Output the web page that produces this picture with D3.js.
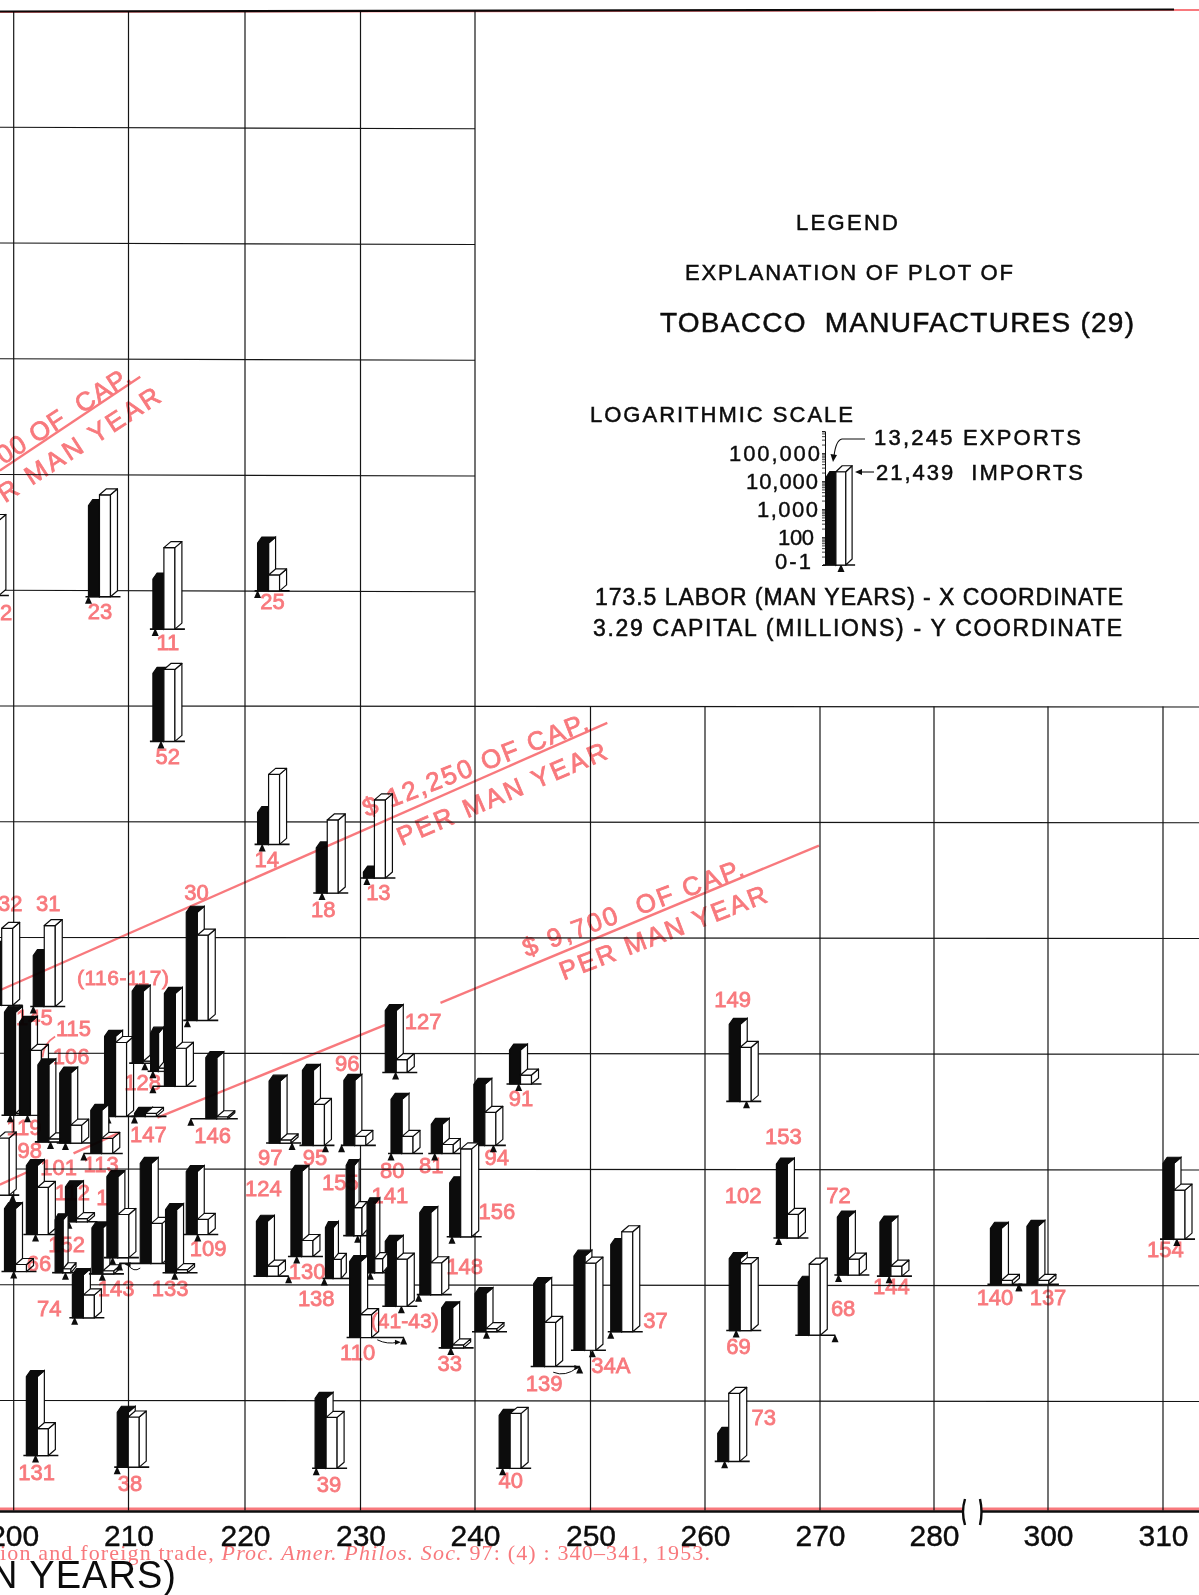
<!DOCTYPE html>
<html>
<head>
<meta charset="utf-8">
<script src="https://cdn.jsdelivr.net/npm/d3@7"></script>
<style>
    html, body { margin: 0; padding: 0; background: #fff; }
    svg { display: block; background: #fff; }
    text { font-family: "Liberation Sans", sans-serif; white-space: pre; }
    #red { mix-blend-mode: multiply; }
</style>
</head>
<body>
<svg id="plot" width="1199" height="1595"></svg>
<script>
// industries, one entry per plotted bar pair
var ids = ["12","23","11","25","52","14","18","13","32","31","30","145","119","","106","115","","113","147","146","116","128","117","97","95","96","127","80","81","94","91","156","148","142","141","155","110","33","","139","34A","37","40","131","38","39","74","66","101","112","152","143","","","133","109","124","130","138","149","153","69","68","72","144","140","137","154","73"];
// labor where the bar pair stands (man years)
var barLabor = [196.8,206.5,212.1,221.2,212.1,221.2,226.3,230.4,198.0,201.7,215.0,199.2,200.5,197.7,202.1,204.0,207.9,206.7,210.5,216.7,210.3,211.9,213.1,222.2,225.1,228.7,232.3,232.8,236.3,240.0,243.1,237.9,235.3,232.3,230.7,228.9,229.2,237.2,240.1,245.2,248.7,251.9,242.2,201.1,209.0,226.2,205.1,199.2,201.1,204.5,203.6,206.8,208.1,211.0,213.2,215.0,221.1,224.1,227.1,262.2,266.3,262.2,268.2,271.6,275.3,289.9,296.3,310.0,261.2];
// labor at the little triangle, the true x coordinate
var markLabor = [197.1,206.5,212.3,221.2,212.8,221.6,226.8,230.7,200.5,201.7,215.1,199.7,201.2,199.9,203.2,204.5,208.2,206.1,210.5,215.4,211.4,212.1,212.1,224.2,227.1,228.5,233.2,232.8,236.6,241.7,243.9,238.1,235.2,233.7,231.0,229.9,233.9,238.0,241.1,249.2,250.3,251.9,242.5,201.9,209.0,226.3,205.3,200.0,201.9,204.8,204.5,207.7,208.6,209.2,214.0,216.0,223.9,224.6,227.0,263.7,266.5,262.8,271.4,271.7,276.1,294.9,294.9,311.2,261.8];
// capital in grid units
var capital = [7.95,7.94,7.66,7.99,6.69,5.80,5.38,5.51,4.41,4.40,4.28,3.46,3.46,2.77,3.23,3.22,3.45,3.13,3.45,3.43,3.91,3.84,3.71,3.22,3.20,3.20,3.83,3.13,3.13,3.20,3.73,2.41,1.91,1.81,2.10,2.42,1.54,1.45,1.59,1.29,1.43,1.59,0.41,0.52,0.42,0.41,1.71,2.11,2.43,2.54,2.10,2.09,2.23,2.18,2.10,2.43,2.07,2.24,2.05,3.58,2.40,1.60,1.56,2.08,2.07,2.00,2.00,2.39,0.47];
// log10 of exports and imports
var exportsLog = [2.79,4.25,2.79,2.71,3.43,2.14,2.61,1.21,3.07,2.82,4.86,4.68,4.32,2.79,3.75,3.50,3.86,2.54,1.11,3.18,3.57,2.36,4.32,3.21,3.68,3.32,3.21,2.93,2.04,3.18,2.21,2.93,3.93,3.32,3.46,3.50,3.71,2.43,2.36,3.96,4.36,4.11,2.89,3.82,2.96,3.50,2.54,3.25,3.46,2.25,2.89,2.64,3.89,4.57,3.25,3.25,2.96,4.04,2.82,3.75,3.64,3.57,2.89,3.07,2.93,3.00,3.07,3.71,2.00];
var importsLog = [3.68,4.64,3.91,1.57,3.57,3.50,3.61,3.79,3.75,3.89,4.04,1.07,3.32,3.04,1.11,1.64,3.64,1.54,1.11,1.07,1.07,1.11,2.36,1.11,2.46,1.32,1.46,1.61,1.32,2.18,1.32,4.14,2.14,2.68,1.50,2.00,1.82,1.11,1.11,2.57,4.11,4.57,2.96,1.96,2.79,2.82,1.82,1.25,2.68,1.11,1.14,1.11,2.54,2.43,1.11,1.54,1.36,1.57,1.68,2.93,1.84,3.39,3.54,1.57,1.36,1.14,1.14,2.75,3.43];
var narrowIds = ["141","155","152","128","138"];

var xTicks = [200,210,220,230,240,250,260,270,280,300,310];
var gridLevels = [1,2,3,4,5,6,7,8,9,10,11,12];
var bottomCapital = 0.045;

// red numbers: text, labor, capital
var labelText = ["12","23","11","25","52","14","18","13","32","31","30","145","115","106","128","147","146","119","98","101","113","112","152","66","1","143","133","74","109","131","38","39","97","95","96","127","80","81","94","91","156","148","141","155","110","33","139","34A","37","40","124","130","138","149","153","102","69","68","72","144","140","137","154","73"];
var labelLabor = [198.8,207.5,213.4,222.5,213.4,222.0,226.9,231.7,199.7,203.0,215.9,201.8,205.2,205.0,211.2,211.7,217.3,200.9,201.4,203.9,207.6,205.1,204.6,202.2,207.7,208.9,213.6,203.1,216.9,202.0,210.1,227.4,222.3,226.2,229.0,235.6,232.9,236.3,242.0,244.1,242.0,239.2,232.7,228.4,229.9,237.9,246.1,251.9,255.8,243.2,221.7,225.5,226.3,262.5,266.9,263.4,263.0,272.1,271.7,276.3,290.7,300.0,310.2,265.2];
var labelCapital = [7.81,7.82,7.55,7.90,6.56,5.67,5.24,5.39,5.29,5.29,5.39,4.31,4.21,3.97,3.75,3.30,3.29,3.36,3.16,3.01,3.04,2.80,2.35,2.18,2.75,1.97,1.97,1.79,2.31,0.38,0.28,0.27,3.10,3.10,3.91,4.27,2.99,3.03,3.10,3.61,2.63,2.16,2.77,2.88,1.41,1.32,1.15,1.30,1.69,0.31,2.83,2.11,1.88,4.46,3.28,2.77,1.47,1.79,2.77,1.98,1.89,1.89,2.30,0.85];
var groupText = ["(116-117)","(41-43)"];
var groupLabor = [209.5,234.0];
var groupCapital = [4.65,1.69];

// capital per man year lines, each run is [labor, capital] pairs
var lineRuns = [
    [[198.8,9.03],[211.0,9.84]],
    [[198.8,4.54],[251.6,6.85]],
    [[198.8,2.86],[201.2,2.97]],
    [[205.2,3.13],[209.2,3.31]],
    [[212.5,3.44],[232.3,4.24]],
    [[237.1,4.43],[270.0,5.79]]
];
var lineText = ["00 OF  CAP.","R MAN YEAR","$ 12,250 OF CAP.","PER MAN YEAR","$ 9,700  OF CAP.","PER MAN YEAR"];
var lineTextLabor = [209.9,212.5,230.4,233.4,244.3,247.5];
var lineTextCapital = [9.87,9.70,6.11,5.86,4.90,4.70];
var lineTextAngle = [-33,-33,-21.5,-23,-20.5,-21];
var lineTextLength = [154,188,240,225,234,220];
var lineTextAnchor = ["end","end","start","start","start","start"];

// little arrows from a bar to its triangle
var arrowRuns = [[231.6,1.52,233.4,1.50],[246.9,1.24,249.0,1.28],[211.0,2.14,209.9,2.17]];

var legendExports = 13245, legendImports = 21439;
var legendTicks = [10,20,30,40,50,60,70,80,90,100,200,300,400,500,600,700,800,900,1000,2000,3000,4000,5000,6000,7000,8000,9000,10000,20000,30000,40000,50000,60000,70000,80000,90000,100000,200000,300000,400000,500000,600000];
var legendScaleText = ["100,000","10,000","1,000","100","0-1"];
var legendScaleValue = [100000,10000,1000,100,10];

var red = "#f8797d", ink = "#0c0c0c";
var svg = d3.select("#plot");

var x = d3.scaleLinear().domain([200,280,300,310]).range([13.7,934,1048,1163]);
var y = d3.scaleLinear().domain([1,13]).range([1400,11]);
// the printed grid sits a touch off the plain linear fit
var xGrid = d3.scaleLinear().domain(xTicks).range([13.7,128.5,245,360.5,475,590.5,705,820,934,1048,1163]);
var barH = d3.scaleLinear().domain([1,5]).range([0,112]);
var yBase = y(bottomCapital);

// ---- grid
var grid = svg.append("g").attr("stroke", "#151515").attr("stroke-width", 1.2);
grid.selectAll(".h").data(gridLevels).enter().append("line")
    .attr("x1", 0)
    .attr("x2", function (d) { return d > 7 ? xGrid(240) : 1199; })
    .attr("y1", function (d) { return y(d) + 0.5; })
    .attr("y2", function (d) { return d > 7 ? y(d) + 2 : y(d) + 1.5; });
grid.selectAll(".v").data(xTicks).enter().append("line")
    .attr("x1", xGrid).attr("x2", xGrid)
    .attr("y1", function (d) { return d > 240 ? y(7) + 1 : y(13); })
    .attr("y2", yBase);

svg.append("line").attr("x1", 0).attr("x2", 1174).attr("y1", y(13) + 0.5).attr("y2", y(13) - 1.5)
    .attr("stroke", ink).attr("stroke-width", 2.2);

// bottom axis, broken between 280 and 300
var axisG = svg.append("g").attr("transform", "translate(0," + yBase + ")")
    .call(d3.axisBottom(xGrid).tickValues(xTicks).tickSize(0).tickPadding(14));
axisG.select(".domain").remove();
axisG.selectAll("text").attr("font-size", 30).attr("font-family", "Liberation Sans").attr("fill", ink)
    .attr("stroke", ink).attr("stroke-width", 0.4);

[[0, 963], [982, 1199]].forEach(function (r) {
    svg.append("line").attr("x1", r[0]).attr("x2", r[1]).attr("y1", yBase + 1).attr("y2", yBase + 1)
        .attr("stroke", ink).attr("stroke-width", 2.4);
});
["M965 1499 Q961 1512 965 1525", "M980 1499 Q983 1512 980 1525"].forEach(function (p) {
    svg.append("path").attr("d", p).attr("fill", "none").attr("stroke", ink).attr("stroke-width", 2.4);
});

svg.append("text").attr("x", -10).attr("y", 1588).attr("font-size", 38).attr("fill", ink)
    .attr("textLength", 186).attr("lengthAdjust", "spacing").text("N YEARS)");

// ---- bars
var frontW = 11, sideW = 7, rise = 6;

function pts(a) { return a.map(function (p) { return p.join(","); }).join(" "); }

function drawPair(g, bx, base, mx, eH, iH, k) {
    var w = frontW * k, d = sideW * k, r = rise;
    var ex = bx + w, ix = bx + w, top = base - eH, itop = base - iH;
    var right = ix + w + d;
    // base rule and triangle
    g.append("line").attr("x1", Math.min(bx - 3, mx)).attr("x2", Math.max(right + 3, mx))
        .attr("y1", base).attr("y2", base).attr("stroke", ink).attr("stroke-width", 1.6);
    g.append("polygon").attr("points", pts([[mx, base - 1], [mx - 3.5, base + 7], [mx + 3.5, base + 7]])).attr("fill", ink);
    // exports: white side, black front and top
    g.append("polygon").attr("points", pts([[ex, base], [ex, top], [ex + d, top - r], [ex + d, base - r]]))
        .attr("fill", "#fff").attr("stroke", ink).attr("stroke-width", 1.2);
    g.append("polygon").attr("points", pts([[bx, base], [bx, top], [bx + d * 0.6, top - r], [ex + d, top - r], [ex, top], [ex, base]]))
        .attr("fill", ink).attr("stroke", ink).attr("stroke-width", 1.2).attr("stroke-linejoin", "round");
    // imports: all white, outlined
    var face = [
        [[ix, base], [ix, itop], [ix + w, itop], [ix + w, base]],
        [[ix + w, base], [ix + w, itop], [right, itop - r], [right, base - r]],
        [[ix, itop], [ix + d, itop - r], [right, itop - r], [ix + w, itop]]
    ];
    face.forEach(function (f) {
        g.append("polygon").attr("points", pts(f)).attr("fill", "#fff")
            .attr("stroke", ink).attr("stroke-width", 1.2).attr("stroke-linejoin", "round");
    });
}

var rows = ids.map(function (id, i) {
    return { id: id, bar: barLabor[i], mark: markLabor[i], cap: capital[i], e: exportsLog[i], im: importsLog[i] };
});

svg.append("g").attr("id", "bars").selectAll("g").data(rows).enter().append("g")
    .each(function (d) {
        var k = narrowIds.indexOf(d.id) >= 0 ? 0.72 : 1;
        drawPair(d3.select(this), x(d.bar), y(d.cap), x(d.mark), barH(d.e), barH(d.im), k);
    });

// arrows bar -> triangle
arrowRuns.forEach(function (a) {
    var x0 = x(a[0]), y0 = y(a[1]), x1 = x(a[2]), y1 = y(a[3]);
    var p = d3.path();
    p.moveTo(x0, y0);
    p.quadraticCurveTo((x0 + x1) / 2, y0 + 5, x1, y1);
    svg.append("path").attr("d", p.toString()).attr("fill", "none").attr("stroke", ink).attr("stroke-width", 1);
    var s = x1 > x0 ? 1 : -1;
    svg.append("polygon").attr("points", pts([[x1 + 3 * s, y1], [x1 - 3 * s, y1 - 2.5], [x1 - 3 * s, y1 + 2.5]])).attr("fill", ink);
});

// ---- legend
var L = svg.append("g").attr("id", "legend").attr("fill", ink);

function lt(s, x0, x1, cy, size) {
    L.append("text").attr("x", x0).attr("y", cy).attr("dy", "0.36em").attr("font-size", size)
        .attr("stroke", ink).attr("stroke-width", 0.5)
        .attr("textLength", x1 - x0).attr("lengthAdjust", "spacing").text(s);
}
lt("LEGEND", 796, 898, 222, 22);
lt("EXPLANATION OF PLOT OF", 685, 1013, 272, 22);
lt("TOBACCO  MANUFACTURES (29)", 660, 1134, 322, 28);
lt("LOGARITHMIC SCALE", 590, 853, 414, 22);
lt("13,245 EXPORTS", 874, 1081, 437, 22);
lt("21,439  IMPORTS", 876, 1083, 472, 22);
lt("173.5 LABOR (MAN YEARS) - X COORDINATE", 595, 1123, 597, 23);
lt("3.29 CAPITAL (MILLIONS) - Y COORDINATE", 593, 1122, 628, 23);

var logY = d3.scaleLog().domain([10, 600000]).range([565, 565 - 28 * (Math.log10(600000) - 1)]);
var logAxis = d3.axisLeft(logY).tickValues(legendTicks).tickSize(3).tickFormat("");
var logG = L.append("g").attr("transform", "translate(825,0)").call(logAxis);
logG.selectAll("line").attr("stroke", ink).attr("stroke-width", 0.8);
logG.select(".domain").attr("stroke", ink);

L.selectAll(".sc").data(legendScaleText).enter().append("text")
    .attr("text-anchor", "end").attr("x", function (d, i) { return [820,818,818,814,811][i]; })
    .attr("y", function (d, i) { return logY(legendScaleValue[i]); })
    .attr("dy", function (d, i) { return i == 4 ? "0.2em" : "0.36em"; })
    .attr("font-size", 22).attr("stroke", ink).attr("stroke-width", 0.4)
    .attr("textLength", function (d, i) { return [91,72,61,36,36][i]; }).attr("lengthAdjust", "spacing")
    .text(function (d) { return d; });

drawPair(L.append("g"), 826, 565, 841, barH(Math.log10(legendExports)), barH(Math.log10(legendImports)), 0.9);

L.append("path").attr("d", "M865 439 L842 439 Q836 440 834 456").attr("fill", "none").attr("stroke", ink).attr("stroke-width", 1.1);
L.append("polygon").attr("points", "833,462 830.5,454 837,455");
L.append("line").attr("x1", 874).attr("x2", 860).attr("y1", 472).attr("y2", 472).attr("stroke", ink).attr("stroke-width", 1.1);
L.append("polygon").attr("points", "855,472 862,469 862,475");

// ---- red overlay, printed over the black
var R = svg.append("g").attr("id", "red").attr("fill", red);

R.append("line").attr("x1", 0).attr("x2", 1199).attr("y1", y(13) + 1).attr("y2", y(13) - 1)
    .attr("stroke", red).attr("stroke-width", 2);
[[0, 963], [982, 1199]].forEach(function (r) {
    R.append("line").attr("x1", r[0]).attr("x2", r[1]).attr("y1", yBase - 1.5).attr("y2", yBase - 1.5)
        .attr("stroke", red).attr("stroke-width", 3);
});

R.selectAll(".run").data(lineRuns).enter().append("path")
    .attr("d", d3.line().x(function (d) { return x(d[0]); }).y(function (d) { return y(d[1]); }))
    .attr("fill", "none").attr("stroke", red).attr("stroke-width", 2.4);

R.selectAll(".lab").data(labelText).enter().append("text")
    .attr("x", function (d, i) { return x(labelLabor[i]); })
    .attr("y", function (d, i) { return y(labelCapital[i]); })
    .attr("dy", "0.36em").attr("text-anchor", "middle").attr("font-size", 22)
    .attr("stroke", red).attr("stroke-width", 0.8)
    .text(function (d) { return d; });

R.selectAll(".grp").data(groupText).enter().append("text")
    .attr("x", function (d, i) { return x(groupLabor[i]); })
    .attr("y", function (d, i) { return y(groupCapital[i]); })
    .attr("dy", "0.36em").attr("text-anchor", "middle").attr("font-size", 21)
    .attr("textLength", function (d, i) { return i == 0 ? 92 : 68; }).attr("lengthAdjust", "spacing")
    .attr("stroke", red).attr("stroke-width", 0.8)
    .text(function (d) { return d; });

R.selectAll(".lt").data(lineText).enter().append("text")
    .attr("transform", function (d, i) {
        return "translate(" + x(lineTextLabor[i]) + "," + y(lineTextCapital[i]) + ") rotate(" + lineTextAngle[i] + ")";
    })
    .attr("dy", "0.36em").attr("font-size", 26)
    .attr("text-anchor", function (d, i) { return lineTextAnchor[i]; })
    .attr("textLength", function (d, i) { return lineTextLength[i]; }).attr("lengthAdjust", "spacing")
    .attr("stroke", red).attr("stroke-width", 0.8)
    .text(function (d) { return d; });

// curved pointer from 115 down to its bar
var curve = d3.path();
curve.moveTo(x(203.6), y(4.14));
curve.quadraticCurveTo(x(202.6), y(4.08), x(202.5), y(3.96));
R.append("path").attr("d", curve.toString()).attr("fill", "none").attr("stroke", red).attr("stroke-width", 1.8);

// citation running through the foot of the page
var cite = R.append("text").attr("x", 0).attr("y", 1560).attr("font-size", 22)
    .style("font-family", "'Liberation Serif', serif")
    .attr("textLength", 710).attr("lengthAdjust", "spacing");
cite.append("tspan").text("ion and foreign trade, ");
cite.append("tspan").attr("font-style", "italic").text("Proc. Amer. Philos. Soc. ");
cite.append("tspan").text("97: (4) : 340\u2013341, 1953.");
</script>
</body>
</html>
